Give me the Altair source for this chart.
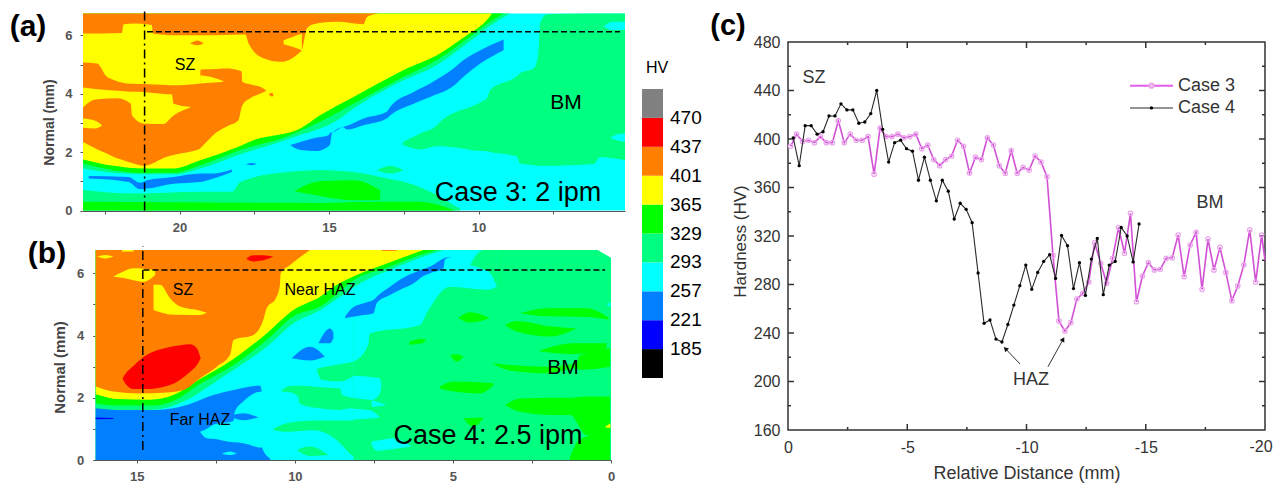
import altair as alt
import pandas as pd

FONT = "Liberation Sans"
GRAY, RED, ORANGE, YELLOW = "#808080", "#FF0000", "#FF8000", "#FFFF00"
GREEN, SPRING, CYAN, AZURE, BLUE, BLACK = "#00FF00", "#00FF80", "#00FFFF", "#0080FF", "#0000FF", "#000000"

# ---------- panel (a): contour bands as (distance mm, lower mm, upper mm) ----------
A_BANDS = [
    (CYAN, [(23.23, 0, 6.75), (5.1, 0, 6.75)]),
    (SPRING, [(23.23, 0, .70), (21.54, 0, .58), (19.31, 0, .64), (18.25, 0, .64), (17.97, 0, .98), (16.41, 0, 1.32),
              (15.3, 0, 1.38), (14.18, 0, 1.32), (13.29, 0, 1.15), (11.95, 0, .8), (11.5, 0, .58), (10.61, 0, .05)]),
    (GREEN, [(23.23, 0, .30), (15.3, 0, .26), (13.3, 0, .3), (12, 0, .3), (11.06, 0, .1), (10.8, 0, 0)]),
    (GREEN, [(16.13, .65, .68), (15.3, .5, 1.0), (14.18, .35, 1.04), (13.29, .35, .7)]),
    (SPRING, [(13.4, 1.38, 1.38), (12.95, 1.27, 1.52), (12.51, 1.38, 1.38)]),
    (SPRING, [(12.53, 2.24, 2.35), (11.95, 2.09, 2.64), (11.39, 2.2, 2.92), (11.28, 2.2, 3.04), (9.94, 2.04, 3.7),
              (9.72, 2.03, 3.84), (9.61, 2.0, 4.12), (8.72, 1.86, 4.6), (8.61, 1.61, 4.7), (8.16, 1.55, 4.86),
              (8.05, 1.53, 5.1), (7.99, 1.53, 5.49), (7.94, 1.53, 6.4), (7.71, 1.53, 6.72), (6.15, 1.59, 6.75),
              (5.93, 1.82, 6.75), (5.1, 1.72, 6.75)]),
    (CYAN, [(5.82, 6.3, 6.3), (5.5, 6.18, 6.46), (5.1, 6.18, 6.46)]),
    (CYAN, [(5.6, 2.5, 2.5), (5.3, 2.38, 2.62), (5.1, 2.35, 2.64)]),
    (AZURE, [(23.04, 1.10, 1.18), (21.71, .98, 1.15), (21.32, .73, .95), (21.09, .75, 1.04), (20.2, .92, 1.15),
             (19.31, .98, 1.27), (18.86, 1.10, 1.27), (18.25, 1.32, 1.40)]),
    (AZURE, [(17.8, 1.58, 1.58), (17.6, 1.55, 1.63), (17.41, 1.6, 1.6)]),
    (AZURE, [(16.3, 2.24, 2.24), (15.96, 2.07, 2.35), (15.41, 2.04, 2.50), (15.02, 2.2, 2.58), (14.96, 2.29, 2.66),
             (14.9, 2.65, 2.67), (14.52, 2.85, 2.87), (14.4, 2.77, 2.9), (13.85, 2.92, 3.15), (13.07, 3.15, 3.38),
             (12.95, 3.26, 3.55), (12.17, 3.66, 4.06), (11.62, 3.89, 4.35), (10.84, 4.26, 4.86), (10.5, 4.58, 5.15),
             (9.94, 5.03, 5.49), (9.16, 5.49, 5.86)]),
    (SPRING, [(23.23, 1.44, 6.75), (22.21, 1.29, 6.75), (21.2, 1.24, 6.75), (20.2, 1.24, 6.75), (19.31, 1.44, 6.75),
              (17.97, 1.93, 6.75), (16.3, 2.47, 6.75), (14.63, 3.15, 6.75), (14.18, 3.49, 6.75), (12.73, 4.35, 6.75),
              (11.39, 4.98, 6.75), (10.17, 5.89, 6.75), (9.5, 6.40, 6.75), (8.94, 6.75, 6.75)]),
    (GREEN, [(23.23, 1.61, 6.75), (22.21, 1.38, 6.75), (21.2, 1.29, 6.75), (20.2, 1.29, 6.75), (19.31, 1.55, 6.75),
             (17.97, 2.07, 6.75), (16.3, 2.58, 6.75), (15.3, 3.04, 6.75), (14.18, 3.66, 6.75), (12.73, 4.46, 6.75),
             (11.39, 5.15, 6.75), (10.28, 5.95, 6.75), (9.61, 6.46, 6.75), (9.16, 6.75, 6.75)]),
    (YELLOW, [(23.23, 1.75, 6.75), (22.21, 1.53, 6.75), (21.2, 1.44, 6.75), (20.2, 1.44, 6.75), (19.31, 1.72, 6.75),
              (18.19, 2.12, 6.75), (17.53, 2.41, 6.75), (15.96, 2.81, 6.75), (15.3, 3.26, 6.75), (14.18, 3.89, 6.75),
              (12.73, 4.69, 6.75), (12.4, 4.86, 6.75), (11.39, 5.32, 6.75), (10.39, 6.00, 6.75), (9.72, 6.52, 6.75),
              (9.55, 6.75, 6.75)]),
    (ORANGE, [(23.23, 6.06, 6.75), (21.93, 6.08, 6.75), (21.87, 6.38, 6.75), (21.54, 6.40, 6.75), (20.93, 6.35, 6.75),
              (20.89, 6.06, 6.75), (20.2, 6.0, 6.75), (19.31, 6.0, 6.75), (17.8, 6.03, 6.75), (17.69, 5.72, 6.75),
              (17.19, 5.21, 6.75), (16.63, 5.09, 6.75), (15.91, 5.49, 6.75), (15.74, 6.23, 6.75), (15.52, 6.38, 6.75),
              (14.74, 6.46, 6.75), (13.85, 6.38, 6.75), (13.73, 6.63, 6.75), (13.34, 6.75, 6.75)]),
    (YELLOW, [(16.52, 5.69, 5.83), (16.2, 5.6, 5.95), (15.91, 5.49, 6.06)]),
    (ORANGE, [(19.64, 5.72, 5.72), (19.4, 5.66, 5.82), (19.2, 5.72, 5.72)]),
    (ORANGE, [(23.23, 2.35, 5.07), (22.76, 2.1, 5.03), (22.43, 1.95, 4.58), (22.32, 1.89, 4.52), (21.76, 1.68, 4.35),
              (21.54, 1.61, 4.34), (21.2, 1.53, 4.33), (20.42, 1.84, 4.3), (20.2, 1.9, 4.29), (19.31, 2.12, 4.35),
              (19.3, 2.13, 4.83), (18.75, 2.69, 4.85), (18.42, 2.88, 4.86), (18.03, 3.09, 4.8), (17.92, 3.55, 4.75),
              (17.9, 3.6, 4.41), (17.64, 3.84, 4.32), (17.19, 4.05, 4.18), (17.1, 4.1, 4.1)]),
    (YELLOW, [(23.23, 3.53, 4.21), (22.82, 3.80, 4.16), (22.1, 3.84, 4.10), (21.63, 3.66, 4.07), (21.59, 3.26, 4.07),
              (21.2, 2.98, 4.06), (20.54, 2.96, 3.99), (20.26, 3.2, 3.98), (20.2, 3.25, 3.66), (19.64, 3.53, 3.55)]),
    (YELLOW, [(23.23, 2.83, 3.15), (22.82, 2.81, 3.07), (22.6, 2.9, 2.92)]),
    (YELLOW, [(19.31, 4.35, 4.63), (18.86, 4.38, 4.55), (18.53, 4.41, 4.43)]),
    (ORANGE, [(17.02, 3.98, 3.98), (16.9, 3.9, 4.03), (16.86, 3.93, 3.95)]),
]

# ---------- panel (b) ----------
B_BANDS = [
    (SPRING, [(16.3, 0, 6.75), (0, 0, 6.75)]),
    (CYAN, [(16.3, 0, 6.75), (8.15, 0, 6.75)]),
    (CYAN, [(8.15, 3.16, 6.75), (7.68, 3.7, 6.75), (7.63, 4.07, 6.75), (6.04, 4.34, 6.75), (5.83, 4.72, 6.75),
            (5.09, 5.57, 6.75), (3.93, 5.47, 6.75), (3.61, 5.57, 6.75)]),
    (SPRING, [(4.46, 6.27, 6.27), (4.04, 6.13, 6.75), (3.83, 6.02, 6.75), (3.61, 5.57, 6.75)]),
    (AZURE, [(16.3, 0, 1.7), (14.37, 0, 1.61), (13.42, 0, 1.77), (12.58, 0, 2.09), (11.94, 0, 2.25), (11.1, 0, 2.39),
             (11.05, 0, 2.2), (11.04, 0, .4), (10.78, 0, .05)]),
    (BLUE, [(16.3, 1.31, 1.37), (15.74, 1.32, 1.35)]),
    (CYAN, [(13.0, .91, .91), (12.79, .7, 1.0), (12.58, .68, 1.13), (11.94, .57, 1.25), (11.9, .57, 1.55),
            (11.63, .54, 1.88), (11.05, .4, 2.2), (11.0, .4, 2.2)]),
    (AZURE, [(11.94, 1.35, 1.45), (11.63, 1.28, 1.5), (11.15, 1.37, 1.37)]),
    (CYAN, [(12.31, .2, .2), (12.05, .16, .27), (11.84, .2, .2)]),
    (AZURE, [(9.26, 3.75, 3.75), (8.89, 3.75, 4.23), (8.78, 3.91, 4.1)]),
    (AZURE, [(10.1, 3.27, 3.27), (9.52, 3.2, 3.64), (9.05, 3.32, 3.32)]),
    (AZURE, [(8.41, 4.56, 4.61), (8.2, 4.6, 4.88), (7.83, 4.66, 5.04), (7.51, 4.72, 5.15), (7.41, 5.04, 5.25),
             (6.99, 5.3, 5.57), (6.67, 5.47, 5.8), (6.14, 5.75, 6.06), (6.04, 5.84, 6.1), (5.72, 6.0, 6.22),
             (5.3, 6.16, 6.48), (5.25, 6.45, 6.5), (4.98, 6.54, 6.54)]),
    (SPRING, [(9.31, 2.92, 2.92), (9.15, 2.57, 2.97), (8.57, 2.52, 3.08), (8.15, 2.7, 3.16)]),
    (CYAN, [(8.15, 1.95, 2.7), (7.94, 1.95, 2.7), (7.57, 1.93, 2.66), (7.31, 2.14, 2.63), (7.26, 2.41, 2.41)]),
    (CYAN, [(7.57, 1.7, 1.93), (7.1, 1.77, 1.77)]),
    (CYAN, [(8.15, 1.3, 1.65), (7.63, 1.33, 1.6), (7.31, 1.37, 1.37)]),
    (SPRING, [(10.42, 2.2, 2.25), (10.16, 2.18, 2.38), (9.9, 2.04, 2.39), (9.84, 1.8, 2.39), (9.2, 1.66, 2.34),
              (8.57, 1.61, 2.3), (8.5, 1.62, 2.09), (7.63, 1.72, 1.88), (7.57, 1.7, 1.7)]),
    (SPRING, [(10.68, .96, 1.0), (10.26, .91, 1.18), (9.42, .96, 1.27), (8.68, .64, 1.27), (8.47, .43, 1.27),
              (8.15, .13, 1.27), (7.31, 0, 1.34)]),
    (SPRING, [(9.94, .32, .32), (9.52, .13, .43), (8.94, .16, .16)]),
    (CYAN, [(7.57, .48, .6), (7.42, .3, .62), (6.88, .35, .7), (6.31, .43, .43)]),
    (GREEN, [(4.83, 4.56, 4.56), (4.46, 4.42, 4.75), (3.83, 4.56, 4.56)]),
    (GREEN, [(2.88, 4.72, 4.72), (2.03, 4.62, 4.88), (.77, 4.6, 4.88), (.08, 4.52, 4.58)]),
    (GREEN, [(3.35, 4.34, 4.34), (2.98, 4.13, 4.47), (1.93, 3.97, 4.3), (1.09, 4.23, 4.23)]),
    (GREEN, [(6.38, 3.7, 3.8), (6.0, 3.75, 3.9), (5.83, 3.86, 3.86)]),
    (GREEN, [(5.09, 3.38, 3.38), (4.88, 3.16, 3.4), (4.67, 3.32, 3.32)]),
    (GREEN, [(2.3, 3.5, 3.5), (1.19, 3.4, 3.75), (.14, 3.6, 3.75)]),
    (GREEN, [(3.77, 3.11, 3.11), (3.2, 2.88, 3.05), (2.03, 2.79, 3.0), (1.09, 2.95, 3.1), (1.0, 2.9, 3.35), (.03, 3.0, 3.59)]),
    (GREEN, [(5.41, 2.3, 2.36), (4.98, 2.2, 2.52), (4.14, 2.14, 2.5), (3.72, 2.4, 2.47)]),
    (GREEN, [(3.35, 1.77, 1.77), (2.88, 1.55, 1.98), (1.93, 1.45, 2.0), (1.3, 1.45, 2.0), (.77, .8, 2.04), (.03, .91, 2.04)]),
    (GREEN, [(1.3, 0, .1), (1.0, 0, .65), (.03, 0, .95)]),
    (GREEN, [(4.67, 1.34, 1.34), (4.35, 1.07, 1.36), (4.04, 1.34, 1.36)]),
    (YELLOW, [(.2, 1.05, 1.05), (.02, 1.03, 1.18)]),
    (CYAN, [(.14, 5.0, 5.0), (.02, 4.93, 5.07)]),
    (SPRING, [(16.3, 1.66, 6.75), (15.63, 1.61, 6.75), (14.58, 1.61, 6.75), (13.42, 1.93, 6.75), (12.58, 2.47, 6.75),
              (11.94, 2.89, 6.75), (10.89, 3.64, 6.75), (10.05, 4.39, 6.75), (9.2, 4.82, 6.75), (8.57, 5.25, 6.75),
              (7.93, 5.68, 6.75), (6.88, 6.16, 6.75), (5.93, 6.54, 6.75), (5.3, 6.75, 6.75)]),
    (GREEN, [(16.3, 1.82, 6.75), (15.63, 1.75, 6.75), (14.58, 1.75, 6.75), (13.84, 1.9, 6.75), (13.0, 2.44, 6.75),
             (11.94, 3.05, 6.75), (10.89, 3.86, 6.75), (10.05, 4.61, 6.75), (9.2, 4.93, 6.75), (8.04, 5.84, 6.75),
             (6.99, 6.22, 6.75), (6.04, 6.59, 6.75), (5.51, 6.75, 6.75)]),
    (YELLOW, [(16.3, 2.11, 6.75), (15.63, 1.96, 6.75), (14.58, 1.94, 6.75), (13.84, 2.09, 6.75), (13.0, 2.6, 6.75),
              (11.94, 3.25, 6.75), (10.89, 4.07, 6.75), (10.05, 4.82, 6.75), (9.2, 5.25, 6.75), (8.67, 5.63, 6.75),
              (8.04, 5.95, 6.75), (7.09, 6.32, 6.75), (5.93, 6.75, 6.75)]),
    (ORANGE, [(16.3, 2.36, 6.75), (15.74, 2.2, 6.75), (14.89, 2.14, 6.75), (14.05, 2.17, 6.75), (13.52, 2.25, 6.75),
              (13.0, 2.63, 6.75), (12.47, 3.0, 6.75), (12.05, 3.38, 6.75), (11.94, 3.86, 6.75), (11.31, 4.02, 6.75),
              (11.0, 4.5, 6.75), (10.89, 4.88, 6.75), (10.6, 5.2, 6.75), (10.47, 5.63, 6.75), (10.45, 6.0, 6.75),
              (10.15, 6.27, 6.75), (9.52, 6.75, 6.75)]),
    (ORANGE, [(7.25, 6.72, 6.75), (6.78, 6.72, 6.75)]),
    (YELLOW, [(16.26, 6.53, 6.53), (16.0, 6.48, 6.59), (15.74, 6.54, 6.54)]),
    (YELLOW, [(15.47, 6.7, 6.75), (15.1, 6.7, 6.75)]),
    (YELLOW, [(15.74, 5.9, 5.9), (15.42, 5.85, 6.06), (15.11, 5.78, 6.16), (14.79, 5.73, 6.15), (14.42, 5.95, 6.11)]),
    (YELLOW, [(14.47, 4.82, 5.63), (14.26, 4.75, 5.63), (13.95, 4.68, 5.2), (13.63, 4.67, 4.93), (13.0, 4.66, 4.8), (12.79, 4.74, 4.74)]),
    (RED, [(15.45, 2.63, 2.63), (15.37, 2.47, 2.76), (15.1, 2.28, 3.03), (14.68, 2.28, 3.38), (14.05, 2.38, 3.61),
           (13.95, 2.41, 3.63), (13.31, 2.84, 3.72), (13.1, 3.05, 3.59), (12.98, 3.27, 3.27)]),
    (RED, [(11.54, 6.47, 6.47), (11.31, 6.38, 6.58), (11.0, 6.42, 6.58), (10.68, 6.53, 6.53)]),
    ("#FFFFFF", [(.42, 6.75, 6.75), (0, 6.5, 6.75)]),
]

# ---------- colour bar ----------
BAR_COLORS = [BLACK, BLUE, AZURE, CYAN, SPRING, GREEN, YELLOW, ORANGE, RED, GRAY]
BAR_LOW = [0, 1, 2, 3, 4, 5, 6, 7, 8, 9]
BAR_HIGH = [1, 2, 3, 4, 5, 6, 7, 8, 9, 10]
BAR_LABELS = ["185", "221", "257", "293", "329", "365", "401", "437", "470"]
BAR_LABEL_POS = [1, 2, 3, 4, 5, 6, 7, 8, 9]

# ---------- panel (c) ----------
CASE3_X = [-0.11, -0.36, -0.61, -0.86, -1.11, -1.36, -1.61, -1.86, -2.11, -2.36, -2.61, -2.86, -3.11, -3.36, -3.61, -3.86,
           -4.11, -4.36, -4.61, -4.86, -5.11, -5.36, -5.61, -5.86, -6.11, -6.36, -6.61, -6.86, -7.11, -7.36, -7.61, -7.86,
           -8.11, -8.36, -8.61, -8.86, -9.11, -9.36, -9.61, -9.86, -10.11, -10.36, -10.61, -10.86, -11.11, -11.36, -11.61,
           -11.86, -12.11, -12.36, -12.61, -12.86, -13.11, -13.36, -13.61, -13.86, -14.11, -14.36, -14.61, -14.86, -15.11,
           -15.36, -15.61, -15.86, -16.11, -16.36, -16.61, -16.86, -17.11, -17.36, -17.61, -17.86, -18.11, -18.36, -18.61,
           -18.86, -19.11, -19.36, -19.61, -19.86]
CASE3_HV = [394, 404, 398, 399, 397, 402, 397, 397, 415, 397, 404, 399, 399, 402, 371, 409, 402, 402, 404, 401, 402, 404,
            392, 395, 383, 378, 383, 386, 399, 394, 372, 385, 383, 401, 395, 378, 371.7, 390.4, 371.7, 376.6, 374.4, 386,
            381, 369, 304, 250, 241.6, 248.5, 268, 272.7, 282, 314.5, 297.5, 281, 301.6, 327, 305.7, 338.7, 265.8, 287,
            298, 292, 292.5, 301.6, 302, 320.8, 286.5, 312.6, 323, 276, 317.5, 292, 310.6, 290, 266.7, 278.8, 296, 325,
            282, 320.8]
CASE3_EDGE = (-20, 300)
CASE4_X = [-0.22, -0.47, -0.72, -0.97, -1.22, -1.47, -1.72, -1.97, -2.22, -2.47, -2.72, -2.97, -3.22, -3.47, -3.72, -3.97,
           -4.22, -4.47, -4.72, -4.97, -5.22, -5.47, -5.72, -5.97, -6.22, -6.47, -6.72, -6.97, -7.22, -7.47, -7.72, -7.97,
           -8.22, -8.47, -8.72, -8.97, -9.22, -9.47, -9.72, -9.97, -10.22, -10.47, -10.72, -10.97, -11.22, -11.47, -11.72,
           -11.97, -12.22, -12.47, -12.72, -12.97, -13.22, -13.47, -13.72, -13.97, -14.22, -14.47, -14.72]
CASE4_HV = [401, 378, 411, 411, 404, 406, 419, 419, 429, 424, 424, 413, 414, 421, 440, 408, 381, 397, 399, 392, 390, 366,
            385, 366, 349, 366, 357, 334, 347, 342, 331, 289.5, 248, 250.7, 235, 232.6, 247, 263, 279, 296, 276, 290, 299,
            304.6, 285, 320.5, 312, 276.6, 298, 271, 301, 318, 271.6, 296, 299, 327, 320, 298.6, 330]
C_X_MAJOR = [0, -5, -10, -15, -20]
C_X_MINOR = [-2.5, -7.5, -12.5, -17.5]
C_Y_MAJOR = [160, 200, 240, 280, 320, 360, 400, 440, 480]
C_Y_MINOR = [180, 220, 260, 300, 340, 380, 420, 460]

VIEW_H = 478
ax_a = alt.Scale(domain=[23.23, 5.1], range=[75, 617])
ay_a = alt.Scale(domain=[0, 6.75], range=[202.5, 5.4])
ax_b = alt.Scale(domain=[16.3, 0], range=[87.7, 603])
ay_b = alt.Scale(domain=[0, 6.75], range=[452, 242])
ax_c = alt.Scale(domain=[0, -20], range=[780, 1257])
ay_c = alt.Scale(domain=[160, 480], range=[422, 34])
y_bar = alt.Scale(domain=[0, 10], range=[370, 81])


def band(rows, color, xs, ys):
    df = pd.DataFrame(rows, columns=["x", "lo", "hi"])
    return alt.Chart(df).mark_area(color=color, orient="vertical", opacity=1, interpolate="monotone").encode(
        x=alt.X("x:Q", scale=xs, axis=None),
        y=alt.Y("lo:Q", scale=ys, axis=None),
        y2="hi:Q",
    )


def rule(x1, y1, x2, y2, xs, ys, dash=None, color="#000000", width=1.5):
    df = pd.DataFrame({"x": [x1], "y": [y1], "x2": [x2], "y2": [y2]})
    kw = {"strokeDash": dash} if dash else {}
    return alt.Chart(df).mark_rule(color=color, strokeWidth=width, **kw).encode(
        x=alt.X("x:Q", scale=xs, axis=None),
        y=alt.Y("y:Q", scale=ys, axis=None),
        x2="x2:Q",
        y2="y2:Q",
    )


def label(text, px, py, size, color="#000000", weight="normal", align="center", angle=0):
    df = pd.DataFrame({"t": [text]})
    return alt.Chart(df).mark_text(font=FONT, fontSize=size, color=color, fontWeight=weight, align=align,
                                   baseline="middle", angle=angle).encode(
        x=alt.value(px - 8), y=alt.value(py - 8), text="t:N")


def axis_layer(xs, ys, xa, ya):
    df = pd.DataFrame({"x": [xs.domain[0]], "y": [ys.domain[0]]})
    return alt.Chart(df).mark_point(opacity=0, size=1).encode(
        x=alt.X("x:Q", scale=xs, axis=xa), y=alt.Y("y:Q", scale=ys, axis=ya))


def contour_axes(xvals, yvals, xmod, xoff, yoff, title_y, title_size, lab_pad, title_pad):
    common = dict(labelFont=FONT, labelColor="#555555", labelFontWeight="bold", tickColor="#555555", tickSize=3,
                  domainColor="#555555", labelOverlap=False, labelFlush=False, grid=False)
    xa = alt.Axis(orient="bottom", values=xvals, labelExpr=f"datum.value % {xmod} == 0 ? datum.label : ''", offset=xoff,
                  title=None, labelFontSize=13, labelPadding=7, **common)
    ya = alt.Axis(orient="left", values=yvals, labelExpr="datum.value % 2 == 0 ? datum.label : ''", offset=yoff,
                  title="Normal (mm)", titleFont=FONT, titleColor="#444444", titleFontSize=title_size,
                  titleFontWeight="bold", titleY=title_y, titlePadding=title_pad, labelFontSize=13,
                  labelPadding=lab_pad, **common)
    return xa, ya


xa_a, ya_a = contour_axes([22.5, 20, 17.5, 15, 12.5, 10, 7.5], [0, 1, 2, 3, 4, 5, 6], 5, 203 - VIEW_H, -75, 114, 14, 8, 8)
xa_b, ya_b = contour_axes([15, 12.5, 10, 7.5, 5, 2.5, 0], [0, 1, 2, 3, 4, 5, 6], 5, 452 - VIEW_H, -87.7, 359, 15, 9, 9)

a_layers = [band(r, c, ax_a, ay_a) for c, r in A_BANDS]
a_layers.append(rule(21.17, 0, 21.17, 6.92, ax_a, ay_a, dash=[9, 4, 2, 4]))
a_layers.append(rule(21.09, 6.12, 5.27, 6.12, ax_a, ay_a, dash=[6, 3]))
panel_a = alt.layer(*a_layers)

b_layers = [band(r, c, ax_b, ay_b) for c, r in B_BANDS]
b_layers.append(rule(14.81, 0.32, 14.81, 6.86, ax_b, ay_b, dash=[9, 4, 2, 4]))
b_layers.append(rule(14.79, 6.11, 0.19, 6.11, ax_b, ay_b, dash=[6, 3]))
panel_b = alt.layer(*b_layers)

bar_df = pd.DataFrame({"low": BAR_LOW, "high": BAR_HIGH, "color": BAR_COLORS})
bar_rect = alt.Chart(bar_df).mark_rect().encode(
    x=alt.value(634), x2=alt.value(655),
    y=alt.Y("low:Q", scale=y_bar, axis=None), y2="high:Q",
    color=alt.Color("color:N", scale=None))
bar_lab_df = pd.DataFrame({"pos": BAR_LABEL_POS, "t": BAR_LABELS})
bar_text = alt.Chart(bar_lab_df).mark_text(font=FONT, fontSize=19, align="left", baseline="middle", color="#000000").encode(
    x=alt.value(662), y=alt.Y("pos:Q", scale=y_bar, axis=None), text="t:N")
panel_bar = alt.layer(bar_rect, bar_text)

# panel (c)
case3_line_df = pd.DataFrame({"x": CASE3_X + [CASE3_EDGE[0]], "hv": CASE3_HV + [CASE3_EDGE[1]]})
case3_df = pd.DataFrame({"x": CASE3_X, "hv": CASE3_HV})
case4_df = pd.DataFrame({"x": CASE4_X, "hv": CASE4_HV})
x_axis_c = alt.Axis(orient="bottom", values=C_X_MAJOR[:-1], offset=422 - VIEW_H, ticks=False, domain=False, grid=False,
                    labelFont=FONT, labelFontSize=16, labelColor="#333333", labelPadding=9, labelOverlap=False,
                    labelFlush=False, labelExpr="datum.value == 0 ? '0' : '-' + abs(datum.value)",
                    title="Relative Distance (mm)", titleFont=FONT, titleFontSize=18, titleFontWeight="normal",
                    titleColor="#333333", titlePadding=9)
y_axis_c = alt.Axis(orient="left", values=C_Y_MAJOR, offset=-780, ticks=False, domain=False, grid=False, labelFont=FONT,
                    labelFontSize=16, labelColor="#333333", labelPadding=8, labelOverlap=False, labelFlush=False,
                    title="Hardness (HV)", titleFont=FONT, titleFontSize=17, titleFontWeight="normal",
                    titleColor="#333333", titlePadding=4, titleY=233)
MAGENTA, PINK, INK = "#D24FD6", "#E9A6EA", "#2A2A2A"
frame = alt.Chart(pd.DataFrame({"x": [0], "x2": [-20], "y": [160], "y2": [480]})).mark_rect(
    fill=None, stroke="#333333", strokeWidth=1.5).encode(
    x=alt.X("x:Q", scale=ax_c, axis=None), x2="x2:Q",
    y=alt.Y("y:Q", scale=ay_c, axis=None), y2="y2:Q")
c_layers = [frame]
for vals, len_y in [(C_X_MAJOR[1:-1], 5), (C_X_MINOR, 2.5)]:
    for v in vals:
        c_layers.append(rule(v, 160, v, 160 + len_y, ax_c, ay_c, color="#333333", width=1.5))
        c_layers.append(rule(v, 480, v, 480 - len_y, ax_c, ay_c, color="#333333", width=1.5))
for vals, len_x in [(C_Y_MAJOR[1:-1], 0.25), (C_Y_MINOR, 0.125)]:
    for v in vals:
        c_layers.append(rule(0, v, -len_x, v, ax_c, ay_c, color="#333333", width=1.5))
        c_layers.append(rule(-20, v, -20 + len_x, v, ax_c, ay_c, color="#333333", width=1.5))


def xy():
    return dict(x=alt.X("x:Q", scale=ax_c, axis=None), y=alt.Y("hv:Q", scale=ay_c, axis=None))


c_layers += [
    alt.Chart(case3_line_df).mark_line(color=MAGENTA, strokeWidth=1.6).encode(**xy()),
    alt.Chart(case3_df).mark_point(shape="circle", size=20, filled=False, color=PINK, strokeWidth=1.2, opacity=1).encode(**xy()),
    alt.Chart(case4_df).mark_line(color=INK, strokeWidth=1.1).encode(**xy()),
    alt.Chart(case4_df).mark_point(shape="circle", size=11, filled=True, color="#000000", opacity=1).encode(**xy()),
    # legend
    rule(-14.34, 444, -16.14, 444, ax_c, ay_c, color="#E45CE8", width=2),
    alt.Chart(pd.DataFrame({"x": [-15.24], "hv": [444]})).mark_point(shape="circle", size=18, filled=True, color="#F3C6F4", stroke=PINK, opacity=1).encode(**xy()),
    rule(-14.34, 425.6, -16.14, 425.6, ax_c, ay_c, color=INK, width=1.1),
    alt.Chart(pd.DataFrame({"x": [-15.24], "hv": [425.6]})).mark_point(shape="circle", size=11, filled=True, color="#000000", opacity=1).encode(**xy()),
    # arrows
    rule(-9.73, 214.4, -9.14, 226.6, ax_c, ay_c, color="#333333", width=1),
    rule(-10.9, 212.2, -11.52, 234.2, ax_c, ay_c, color="#333333", width=1),
    alt.Chart(pd.DataFrame({"x": [-9.14], "hv": [226.6]})).mark_point(shape="triangle", size=28, filled=True, color="#111111", angle=315, opacity=1).encode(**xy()),
    alt.Chart(pd.DataFrame({"x": [-11.52], "hv": [234.2]})).mark_point(shape="triangle", size=28, filled=True, color="#111111", angle=29, opacity=1).encode(**xy()),
]
panel_c = alt.layer(*c_layers)

texts = [
    label("(a)", 28, 27, 30, weight="bold"),
    label("(b)", 47, 254, 30, weight="bold"),
    label("(c)", 728, 26, 29, weight="bold"),
    label("SZ", 185, 65, 16),
    label("BM", 566, 103, 21),
    label("Case 3: 2 ipm", 518, 193, 27),
    label("HV", 657, 68, 16),
    label("SZ", 183, 290, 16),
    label("Near HAZ", 320, 290, 16),
    label("Far HAZ", 200, 420, 16),
    label("BM", 563, 368, 21),
    label("Case 4: 2.5 ipm", 488, 436, 27),
    label("SZ", 814, 78, 18, color="#333333"),
    label("BM", 1210, 203, 18, color="#333333"),
    label("HAZ", 1031, 380, 18, color="#333333"),
    label("Case 3", 1178, 86, 18, color="#333333", align="left"),
    label("Case 4", 1178, 108, 18, color="#333333", align="left"),
    label("-20", 1261, 447, 16, color="#333333"),
]

axes = [
    axis_layer(ax_a, ay_a, xa_a, ya_a),
    axis_layer(ax_b, ay_b, xa_b, ya_b),
    axis_layer(ax_c, ay_c, x_axis_c, y_axis_c),
]

chart = alt.layer(panel_a, panel_b, panel_bar, panel_c, *axes, *texts).resolve_scale(
    x="independent", y="independent"
).properties(
    width=1266, height=VIEW_H, padding=0,
    autosize=alt.AutoSizeParams(type="none"),
).configure_view(stroke=None)

chart.save("out.html", embed_options={"renderer": "svg", "actions": False})
